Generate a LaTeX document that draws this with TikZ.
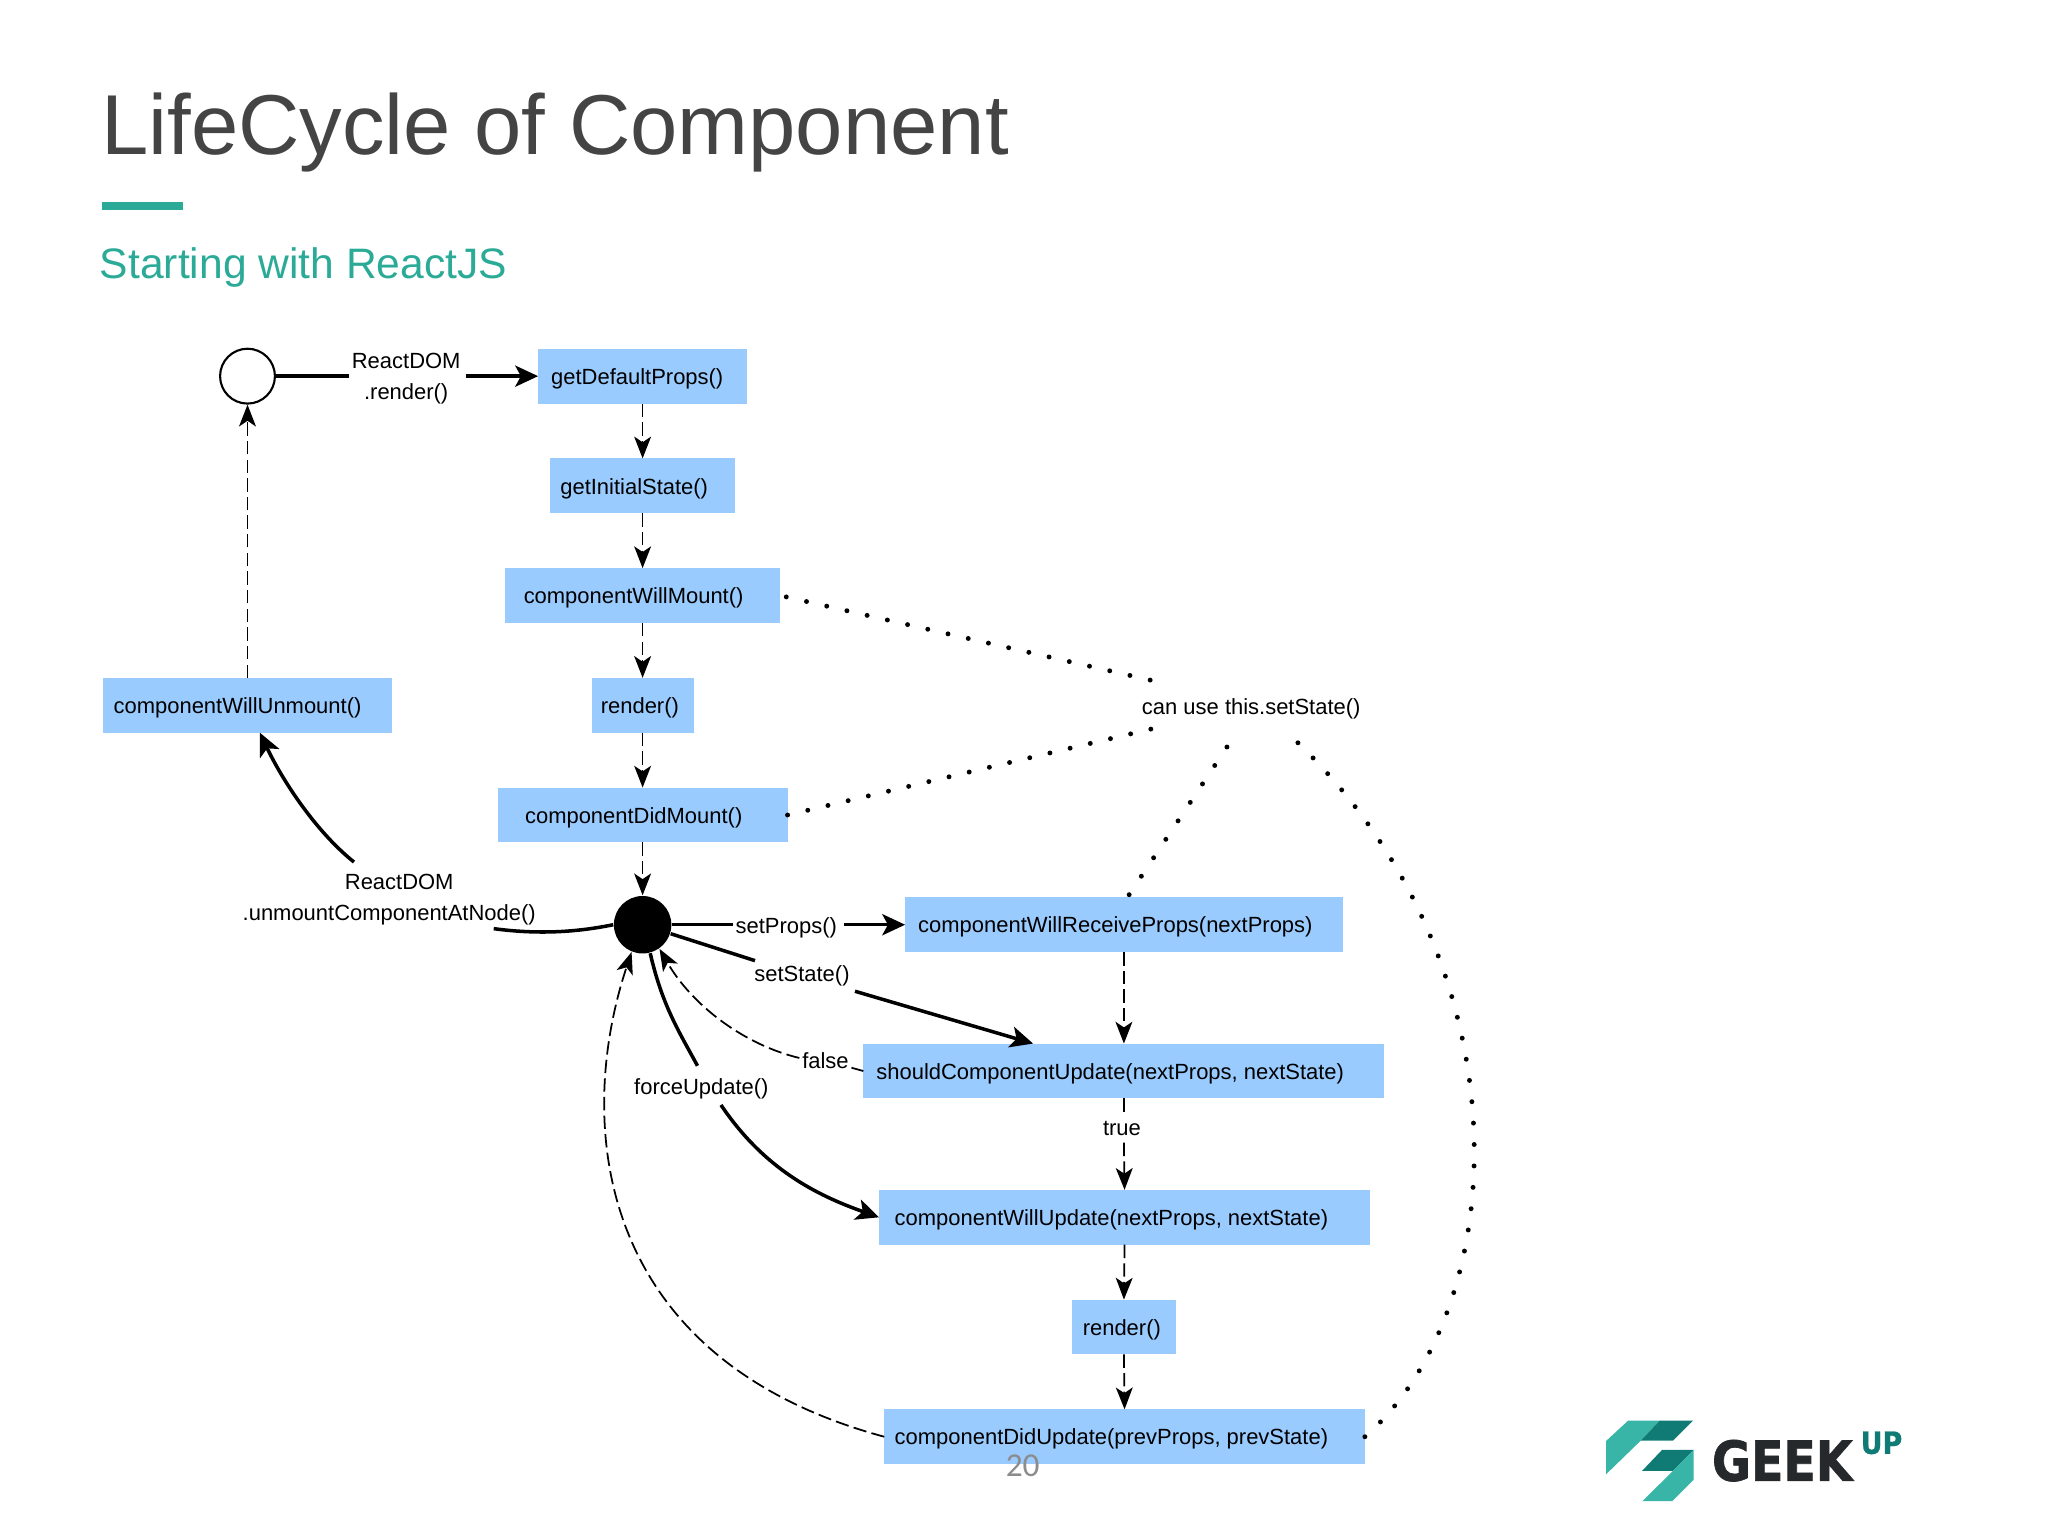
\documentclass[tikz,border=0pt]{standalone}
\usepackage{fontspec}
\setmainfont{Liberation Sans}
\newfontfamily\pagefont{Carlito}
\newfontfamily\geekfont[FakeStretch=0.86,FakeBold=1.2]{DejaVu Sans Bold}
\newfontfamily\upfont[FakeStretch=0.88,FakeBold=0.8]{DejaVu Sans Bold}
\usetikzlibrary{arrows.meta,calc}
\definecolor{boxblue}{HTML}{99CBFE}
\definecolor{teal1}{HTML}{2BAB97}
\definecolor{logolight}{HTML}{38B5A6}
\definecolor{logodark}{HTML}{0F7B74}
\definecolor{logotext}{HTML}{26292B}
\definecolor{titlegray}{HTML}{444444}
\tikzset{
  small/.style={font=\fontsize{6.25}{8.9}\selectfont},
  box/.style={small,fill=boxblue,inner sep=0pt,outer sep=0pt,rectangle},
  lbl/.style={small,inner xsep=0.8pt,inner ysep=0.8pt,outer sep=0pt,align=center},
  solidc/.style={line width=1pt,-{Stealth[length=6.5pt,width=6pt,inset=1.6pt]}},
  solidn/.style={line width=1pt},
  dashc/.style={line width=0.5pt,dash pattern=on 3.8pt off 1.5pt,-{Stealth[length=6.2pt,width=4.8pt,inset=1.6pt]}},
  dashn/.style={line width=0.5pt,dash pattern=on 3.8pt off 1.5pt},
  dotc/.style={line width=1.4pt,line cap=round,dash pattern=on 0pt off #1},
  dotc/.default=5.9pt,
}
\newlength{\bw}
\newlength{\bp}
% name, x1, y1, x2, y2, left padding, text
\newcommand{\bx}[7]{%
  \pgfmathsetlength{\bw}{(#4-#2)*0.0130612cm}%
  \pgfmathsetlength{\bp}{#6*0.0130612cm}%
  \node[box,minimum width=\bw,minimum height={(#5-#3)*0.0130612cm}] (#1) at ({(#2+#4)/2},{(#3+#5)/2})
    {\makebox[\bw][l]{\hspace*{\bp}\raisebox{-2.35pt}[0pt][0pt]{#7}}};%
}
\begin{document}
\begin{tikzpicture}[x=0.0130612cm,y=-0.0130612cm]
\useasboundingbox (0,0) rectangle (1568,1176);
% title block
\node[anchor=base west,inner sep=0pt,text=titlegray,font=\fontsize{24.2}{28}\selectfont] (title) at (77,118) {LifeCycle of Component};
\fill[teal1] (78,155) rectangle (140,161);
\node[anchor=base west,inner sep=0pt,text=teal1,font=\fontsize{12.12}{14}\selectfont] (sub) at (76,213) {Starting with ReactJS};
% boxes
\bx{gdp}{412}{267}{572}{309}{10}{getDefaultProps()}
\bx{gis}{421}{351}{563}{393}{8}{getInitialState()}
\bx{cwm}{387}{435}{597}{477}{14}{componentWillMount()}
\bx{rn}{453}{519}{531}{561}{7}{render()}
\bx{cdm}{381}{603}{603}{645}{21}{componentDidMount()}
\bx{cwum}{79}{519}{300}{561}{8}{componentWillUnmount()}
\bx{cwrp}{693}{687}{1028}{729}{10}{componentWillReceiveProps(nextProps)}
\bx{scu}{661}{799}{1060}{841}{10}{shouldComponentUpdate(nextProps, nextState)}
\bx{cwu}{673}{911}{1049}{953}{12}{componentWillUpdate(nextProps, nextState)}
\bx{rnb}{821}{995}{900}{1037}{8}{render()}
\bx{cdu}{677}{1079}{1045}{1121}{8}{componentDidUpdate(prevProps, prevState)}
% state circles
\node[circle,draw=black,line width=0.6pt,fill=white,minimum size=0.5486cm,inner sep=0pt] (start) at (189.5,288) {};
\node[circle,fill=black,minimum size=0.5747cm,inner sep=0pt] (hub) at (492,708) {};
% labels
\node[lbl] (lrender) at (311,290) {ReactDOM\\.render()};
\node[lbl] (lunmount) at (298,689) {\hspace*{0.2cm}ReactDOM\\.unmountComponentAtNode()};
\node[lbl] (lprops) at (602,710) {setProps()};
\node[lbl] (lstate) at (614,747) {setState()};
\node[lbl] (lfalse) at (632,812) {false};
\node[lbl] (lforce) at (537,834) {forceUpdate()};
\node[lbl,inner ysep=2pt] (ltrue) at (859,864) {true};
\node[lbl] (lcan) at (958,543) {can use this.setState()};
% free ends
\coordinate (ssEnd) at (791,799);
\coordinate (umA) at (378,711);
\coordinate (umB) at (271,660);
\coordinate (umC) at (199,561);
\coordinate (fuA) at (534,816);
\coordinate (fuB) at (552,846);
\coordinate (faA) at (612,810);
\coordinate (canA) at (882,521);
\coordinate (canB) at (882,558);
\coordinate (canC) at (940,571);
\coordinate (canD) at (993,568);
% solid connectors
\draw[solidn] (start.east) -- (start.east -| lrender.west);
\draw[solidc,shorten <=0.025cm] (gdp.west -| lrender.east) -- (gdp.west);
\draw[solidn] (hub.east) -- (hub.east -| lprops.west);
\draw[solidc,shorten <=0.04cm] (cwrp.west -| lprops.east) -- (cwrp.west);
\draw[solidn,shorten >=0.065cm] (hub) -- (lstate);
\draw[solidc,shorten <=0.09cm] (lstate) -- (ssEnd);
\draw[solidn] (hub.-75) .. controls (507,770) and (520,790) .. (fuA);
\draw[solidc] (fuB) .. controls (585,895) and (625,915) .. (cwu.west);
\draw[solidn] (hub.west) .. controls (445,713) and (415,716) .. (umA);
\draw[solidc] (umB) .. controls (240,635) and (215,595) .. (umC);
% dashed connectors
\draw[dashc] (gdp.south) -- (gis.north);
\draw[dashc] (gis.south) -- (cwm.north);
\draw[dashc] (cwm.south) -- (rn.north);
\draw[dashc] (rn.south) -- (cdm.north);
\draw[dashc] (cdm.south) -- (hub.north);
\draw[dashc] (cwum.north -| start.south) -- (start.south);
\draw[dashc] (cwrp.south) -- (scu.north);
\draw[dashn] (scu.south) -- (scu.south |- ltrue.north);
\draw[dashc] (scu.south |- ltrue.south) -- (cwu.north);
\draw[dashc] (cwu.south) -- (rnb.north);
\draw[dashc] (rnb.south) -- (cdu.north);
\draw[dashn] (scu.west) -- (lfalse);
\draw[dashc] (faA) .. controls (570,800) and (530,770) .. (hub.-55);
\draw[dashc] (cdu.west) .. controls (455,1040) and (440,860) .. (hub.-112);
% dotted connectors
\draw[dotc] (cwm.east) ++(5,1) -- (canA);
\draw[dotc] (cdm.east) -- (canB);
\draw[dotc=6.3pt] (cwrp.north) ++(4,-2) -- (canC);
\draw[dotc=6.1pt] (cdu.east) .. controls (1160,1000) and (1169,737) .. (canD);
% page number
\node[text=black!45,font=\pagefont\fontsize{9.5}{11}\selectfont,inner sep=0pt] (pg) at (783,1122) {20};
% logo
\begin{scope}[xshift=15.6cm,yshift=-13.8cm,x=0.003333cm,y=-0.003333cm]
\fill[logolight] (139,183) -- (205,122) -- (300,122) -- (243,182) -- (139,283) -- cycle;
\fill[logodark] (300,122) -- (400,122) -- (340,182) -- (243,182) -- cycle;
\fill[logodark] (307,210) -- (402,210) -- (340,273) -- (247,273) -- cycle;
\fill[logolight] (402,210) -- (402,300) -- (338,364) -- (248,364) -- (340,273) -- cycle;
\node[anchor=base west,inner sep=0pt,text=logotext,font=\geekfont\fontsize{15.7}{17}\selectfont] (geek) at (455,303) {GEEK};
\node[anchor=base west,inner sep=0pt,text=logodark,font=\upfont\fontsize{8.7}{10}\selectfont] (up) at (902,222) {UP};
\end{scope}
\end{tikzpicture}
\end{document}
